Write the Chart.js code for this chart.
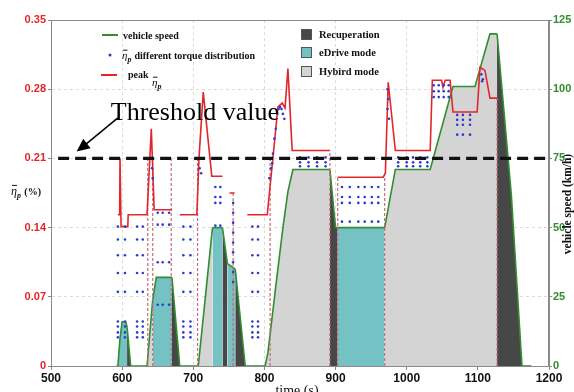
<!DOCTYPE html>
<html lang="en">
<head>
<meta charset="utf-8">
<title>Peak efficiency and vehicle speed</title>
<script src="https://cdn.jsdelivr.net/npm/chart.js@4.4.1/dist/chart.umd.min.js"></script>
<style>
  html, body { margin: 0; padding: 0; background: #fff; }
</style>
</head>
<body>
<canvas id="chart" width="574" height="392"></canvas>
<script>
"use strict";

/**
 * Draws peak efficiency, the torque-distribution points and the vehicle speed
 * of a drive cycle, with the drive mode shaded under the speed curve.
 */

// axis ticks
const timeTicks = [500, 600, 700, 800, 900, 1000, 1100, 1200];
const etaTicks = [0, 0.07, 0.14, 0.21, 0.28, 0.35];
const speedTicks = [0, 25, 50, 75, 100, 125];

// vehicle speed (km/h)
const speedTimes = [592, 594, 597, 600, 605, 607, 612, 635, 643, 648, 670, 681, 707, 727, 741, 748, 759, 773, 801, 805, 817, 826, 833, 840, 892, 900, 903, 969, 984, 1033, 1065, 1096, 1117, 1127, 1147, 1162, 1175];
const speedValues = [0, 0, 10, 16, 16, 14, 0, 0, 24, 32, 32, 0, 0, 50, 50, 37, 35, 0, 0, 5, 31, 50, 63, 71, 71, 50, 50, 50, 71, 71, 101, 101, 120, 120, 62, 0, 0];

// drive mode, from each start time on
const modeStarts = [594, 607, 635, 643, 670, 707, 727, 741, 748, 759, 801, 892, 903, 969, 1127, 1162];
const modeNames = ["eDrive", "Recuperation", "Hybrid", "eDrive", "Recuperation", "Hybrid", "eDrive", "Recuperation", "eDrive", "Recuperation", "Hybrid", "Recuperation", "eDrive", "Hybrid", "Recuperation", "none"];

// peak eta_p (null breaks the line)
const peakTimes = [594, 596.5, 597, 598, 598.5, 608, 608.5, 635, 641, 645, 670, 670, 681, 705, 708, 714, 726, 741, 741, 751, 758, 758, 776, 804, 812, 819, 825, 829, 833, 839, 892, 892, 903, 967, 970, 974, 984, 1033, 1036, 1049, 1051, 1054, 1061, 1065, 1099, 1103, 1110, 1117, 1127];
const peakValues = [0.153, 0.153, 0.21, 0.21, 0.141, 0.141, 0.153, 0.153, 0.24, 0.158, 0.158, null, 0.153, 0.153, 0.21, 0.277, 0.192, 0.192, null, 0.175, 0.175, null, 0.153, 0.153, 0.211, 0.262, 0.266, 0.261, 0.301, 0.218, 0.218, null, 0.191, 0.191, 0.195, 0.287, 0.218, 0.218, 0.289, 0.289, 0.282, 0.289, 0.289, 0.257, 0.257, 0.302, 0.299, 0.271, 0.271];

// dashed mode borders
const borderTimes = [636, 643, 669, 706, 756, 808, 892, 903, 969, 1127];
const borderTops = [0.21, 0.21, 0.21, 0.21, 0.175, 0.21, 0.218, 0.191, 0.191, 0.271];

// eta_p for different torque distributions, in columns
const lowDotTimes = [594, 604, 621, 629, 686, 696, 783, 791];
const lowDotLevels = [0.141, 0.128, 0.112, 0.094, 0.075, 0.045, 0.04, 0.034, 0.029];
const midDotTimes = [650, 657, 666];
const midDotLevels = [0.155, 0.143, 0.105, 0.062];
const tealDotTimes = [731, 738];
const tealDotLevels = [0.181, 0.171, 0.165, 0.142];
const sideDotTimes = [756];
const sideDotLevels = [0.165, 0.155, 0.145, 0.135, 0.125, 0.115, 0.105, 0.095, 0.085];
const flatDotTimes = [850, 862, 874, 886, 988, 1000, 1009, 1019, 1029];
const flatDotLevels = [0.211, 0.206, 0.202];
const boxDotTimes = [909, 920, 932, 941, 951, 960];
const boxDotLevels = [0.181, 0.171, 0.165, 0.146];
const topDotTimes = [1038, 1045, 1052, 1059];
const topDotLevels = [0.284, 0.278, 0.272];
const stepDotTimes = [1071, 1079, 1089];
const stepDotLevels = [0.254, 0.249, 0.244, 0.234];
const riseDotTimes = [642, 643, 709, 710, 711, 807, 809, 811, 812, 814, 816, 818, 820, 822, 824, 826, 828, 973, 973, 974, 975, 1105, 1106, 1107];
const riseDotValues = [0.2, 0.19, 0.2, 0.21, 0.195, 0.19, 0.2, 0.205, 0.215, 0.23, 0.24, 0.255, 0.26, 0.262, 0.26, 0.255, 0.25, 0.28, 0.26, 0.27, 0.25, 0.295, 0.288, 0.29];

const thresholdValue = 0.21;
const thresholdTimes = [510, 1200];

const modeColors = {
  Recuperation: "#474747",
  eDrive: "#74c2c4",
  Hybrid: "#d4d4d4",
  none: "rgba(0,0,0,0)",
};

const RED = "#e3262b";
const GREEN = "#2f8f2f";
const BLUE = "#2b3bd0";

document.addEventListener("DOMContentLoaded", createChart);

function toPoints(times, values) {
  return times.map((t, i) => ({ x: t, y: values[i] }));
}

function columnPoints(times, levels) {
  const points = [];
  times.forEach((t) => {
    levels.forEach((v) => points.push({ x: t, y: v }));
  });
  return points;
}

function borderPoints(times, tops) {
  const points = [];
  times.forEach((t, i) => {
    points.push({ x: t, y: 0 }, { x: t, y: tops[i] }, { x: t, y: null });
  });
  return points;
}

function modeAt(time) {
  let mode = "none";
  modeStarts.forEach((start, i) => {
    if (time >= start) mode = modeNames[i];
  });
  return mode;
}

/** Italic eta with overbar and subscript p */
function drawEtaP(ctx, x, y, size) {
  ctx.save();
  ctx.fillStyle = "#111";
  ctx.strokeStyle = "#111";
  ctx.textBaseline = "alphabetic";
  ctx.textAlign = "left";
  ctx.font = "italic " + size + "px 'Liberation Serif'";
  ctx.fillText("η", x, y);
  const w = ctx.measureText("η").width;
  ctx.lineWidth = 1;
  ctx.beginPath();
  ctx.moveTo(x + 1, y - size * 0.8);
  ctx.lineTo(x + w, y - size * 0.8);
  ctx.stroke();
  ctx.font = "italic bold " + Math.round(size * 0.7) + "px 'Liberation Serif'";
  ctx.fillText("p", x + w, y + size * 0.25);
  ctx.restore();
  return w + size * 0.45;
}

function drawLegends(chart) {
  const ctx = chart.ctx;
  ctx.save();
  ctx.textBaseline = "alphabetic";
  ctx.textAlign = "left";
  ctx.font = "bold 10px 'Liberation Serif'";
  ctx.fillStyle = "#111";

  ctx.lineWidth = 2;
  ctx.strokeStyle = GREEN;
  ctx.beginPath();
  ctx.moveTo(102, 35);
  ctx.lineTo(118, 35);
  ctx.stroke();
  ctx.fillText("vehicle speed", 123, 39);

  ctx.fillStyle = BLUE;
  ctx.beginPath();
  ctx.arc(110, 55, 1.5, 0, Math.PI * 2);
  ctx.fill();
  const w = drawEtaP(ctx, 122, 59, 11);
  ctx.fillStyle = "#111";
  ctx.font = "bold 10px 'Liberation Serif'";
  ctx.fillText("different torque distribution", 122 + w + 2, 59);

  ctx.strokeStyle = RED;
  ctx.beginPath();
  ctx.moveTo(101, 75);
  ctx.lineTo(117, 75);
  ctx.stroke();
  ctx.fillText("peak", 128, 78);
  drawEtaP(ctx, 152, 86, 11);

  const boxes = [
    ["Recuperation", modeColors.Recuperation, 29],
    ["eDrive mode", modeColors.eDrive, 47],
    ["Hybird mode", modeColors.Hybrid, 66],
  ];
  ctx.font = "bold 10.5px 'Liberation Serif'";
  boxes.forEach(([label, color, top]) => {
    ctx.fillStyle = color;
    ctx.fillRect(301, top, 11, 11);
    ctx.lineWidth = 1;
    ctx.strokeStyle = "#555";
    ctx.strokeRect(301.5, top + 0.5, 10, 10);
    ctx.fillStyle = "#111";
    ctx.fillText(label, 319, top + 9);
  });
  ctx.restore();
}

function drawAxisTitles(chart) {
  const ctx = chart.ctx;
  const area = chart.chartArea;
  ctx.save();
  ctx.fillStyle = "#111";
  const w = drawEtaP(ctx, 11, 195, 12);
  ctx.font = "bold 10px 'Liberation Serif'";
  ctx.fillText("(%)", 11 + w + 2, 195);

  ctx.font = "14px 'Liberation Serif'";
  ctx.textAlign = "center";
  ctx.fillText("time (s)", (area.left + area.right) / 2 - 3, 395);

  ctx.translate(568.5, 204);
  ctx.rotate(-Math.PI / 2);
  ctx.font = "bold 11.5px 'Liberation Serif'";
  ctx.textBaseline = "middle";
  ctx.fillText("vehicle speed (km/h)", 0, 0);
  ctx.restore();
}

function drawThresholdNote(chart) {
  const ctx = chart.ctx;
  const x = chart.scales.x;
  const y = chart.scales.y;
  const x0 = x.getPixelForValue(594);
  const y0 = y.getPixelForValue(0.249);
  const x1 = x.getPixelForValue(536);
  const y1 = y.getPixelForValue(0.217);

  ctx.save();
  ctx.fillStyle = "#000";
  ctx.font = "26px 'Liberation Serif'";
  ctx.textAlign = "left";
  ctx.textBaseline = "alphabetic";
  ctx.fillText("Threshold value", x.getPixelForValue(584), y0);

  const angle = Math.atan2(y1 - y0, x1 - x0);
  ctx.strokeStyle = "#000";
  ctx.lineWidth = 1.5;
  ctx.beginPath();
  ctx.moveTo(x0, y0 - 2);
  ctx.lineTo(x1 - 8 * Math.cos(angle), y1 - 8 * Math.sin(angle));
  ctx.stroke();
  ctx.beginPath();
  ctx.moveTo(x1, y1);
  ctx.lineTo(x1 - 13 * Math.cos(angle) + 6 * Math.sin(angle), y1 - 13 * Math.sin(angle) - 6 * Math.cos(angle));
  ctx.lineTo(x1 - 13 * Math.cos(angle) - 6 * Math.sin(angle), y1 - 13 * Math.sin(angle) + 6 * Math.cos(angle));
  ctx.closePath();
  ctx.fill();
  ctx.restore();
}

const overlayPlugin = {
  id: "overlay",
  beforeDraw(chart) {
    const ctx = chart.ctx;
    ctx.save();
    ctx.fillStyle = "#fff";
    ctx.fillRect(0, 0, chart.width, chart.height);
    ctx.restore();
  },
  afterDraw(chart) {
    const ctx = chart.ctx;
    const area = chart.chartArea;
    ctx.save();
    ctx.strokeStyle = "#8a8a8a";
    ctx.lineWidth = 1;
    ctx.strokeRect(area.left + 0.5, area.top + 0.5, area.right - area.left - 1, area.bottom - area.top);
    ctx.restore();
    drawLegends(chart);
    drawAxisTitles(chart);
    drawThresholdNote(chart);
  },
};

function createChart() {
  const canvas = document.querySelector("#chart");

  const dotPoints = [].concat(
    columnPoints(lowDotTimes, lowDotLevels),
    columnPoints(midDotTimes, midDotLevels),
    columnPoints(tealDotTimes, tealDotLevels),
    columnPoints(sideDotTimes, sideDotLevels),
    columnPoints(flatDotTimes, flatDotLevels),
    columnPoints(boxDotTimes, boxDotLevels),
    columnPoints(topDotTimes, topDotLevels),
    columnPoints(stepDotTimes, stepDotLevels),
    toPoints(riseDotTimes, riseDotValues)
  );

  new Chart(canvas, {
    type: "line",
    data: {
      datasets: [
        {
          label: "Threshold value",
          data: thresholdTimes.map((t) => ({ x: t, y: thresholdValue })),
          borderColor: "#111",
          borderWidth: 3.2,
          borderDash: [11, 6],
          pointRadius: 0,
          yAxisID: "y",
          order: 0,
        },
        {
          label: "different torque distribution",
          data: dotPoints,
          showLine: false,
          pointRadius: 1.3,
          pointBackgroundColor: BLUE,
          pointBorderWidth: 0,
          yAxisID: "y",
          order: 1,
        },
        {
          label: "peak",
          data: toPoints(peakTimes, peakValues),
          borderColor: RED,
          borderWidth: 1.6,
          pointRadius: 0,
          spanGaps: false,
          yAxisID: "y",
          order: 2,
        },
        {
          label: "mode border",
          data: borderPoints(borderTimes, borderTops),
          borderColor: "#c66b78",
          borderWidth: 1.2,
          borderDash: [3, 2],
          pointRadius: 0,
          spanGaps: false,
          yAxisID: "y",
          order: 3,
        },
        {
          label: "vehicle speed",
          data: toPoints(speedTimes, speedValues),
          borderColor: GREEN,
          borderWidth: 1.6,
          pointRadius: 0,
          fill: "origin",
          backgroundColor: modeColors.Hybrid,
          segment: {
            backgroundColor: (ctx) => modeColors[modeAt((ctx.p0.parsed.x + ctx.p1.parsed.x) / 2)],
          },
          yAxisID: "y2",
          order: 4,
        },
      ],
    },
    options: {
      responsive: false,
      animation: false,
      layout: { padding: { top: 20, left: 0, right: 0, bottom: 0 } },
      plugins: {
        legend: { display: false },
        tooltip: { enabled: false },
      },
      scales: {
        x: {
          type: "linear",
          min: 500,
          max: 1200,
          afterBuildTicks: (scale) => {
            scale.ticks = timeTicks.map((v) => ({ value: v }));
          },
          afterFit: (scale) => {
            scale.height = 26;
          },
          ticks: {
            color: "#111",
            font: { family: "Liberation Sans", weight: "bold", size: 12 },
            padding: 1,
            maxRotation: 0,
            callback: (value) => String(value),
          },
          grid: { color: "rgba(0,0,0,0.14)", tickLength: 4, tickColor: "#888" },
          border: { color: "#8a8a8a", dash: [3, 3] },
        },
        y: {
          position: "left",
          min: 0,
          max: 0.35,
          afterBuildTicks: (scale) => {
            scale.ticks = etaTicks.map((v) => ({ value: v }));
          },
          afterFit: (scale) => {
            scale.width = 51;
          },
          ticks: {
            color: RED,
            font: { family: "Liberation Sans", weight: "bold", size: 11 },
            padding: 2,
            callback: (value) => String(value),
          },
          grid: { color: "rgba(0,0,0,0.14)", tickLength: 3, tickColor: "#888" },
          border: { color: "#8a8a8a", dash: [3, 3] },
        },
        y2: {
          position: "right",
          min: 0,
          max: 125,
          afterBuildTicks: (scale) => {
            scale.ticks = speedTicks.map((v) => ({ value: v }));
          },
          afterFit: (scale) => {
            scale.width = 25;
          },
          ticks: {
            color: GREEN,
            font: { family: "Liberation Sans", weight: "bold", size: 11 },
            padding: 1,
          },
          grid: { drawOnChartArea: false, tickLength: 3, tickColor: "#888" },
          border: { color: "#8a8a8a" },
        },
      },
    },
    plugins: [overlayPlugin],
  });
}
</script>
</body>
</html>
